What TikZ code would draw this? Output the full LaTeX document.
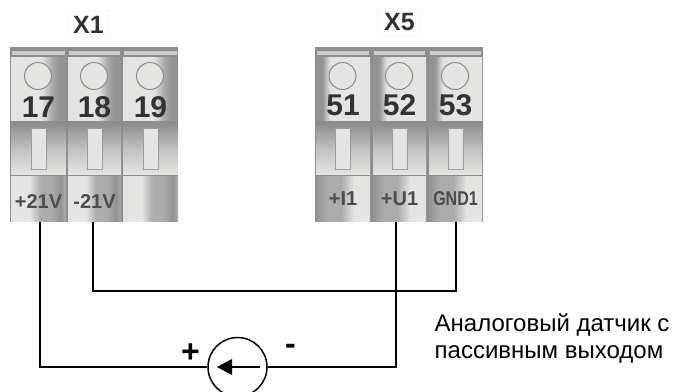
\documentclass[tikz,border=0pt]{standalone}
\usepackage{fontspec}
\setmainfont{Liberation Sans}
\definecolor{frame}{HTML}{8C8C8C}
\definecolor{lite}{HTML}{E4E4E2}
\definecolor{midg}{HTML}{ABABAB}
\definecolor{dark}{HTML}{939393}
\definecolor{ink}{HTML}{333333}
\pgfdeclarehorizontalshading{topR}{100bp}{color(0bp)=(lite); color(25bp)=(lite); color(53bp)=(lite); color(62bp)=(midg); color(68bp)=(dark); color(75bp)=(dark); color(100bp)=(dark)}
\pgfdeclarehorizontalshading{lowR}{100bp}{color(0bp)=(lite); color(25bp)=(lite); color(42bp)=(lite); color(52bp)=(midg); color(62bp)=(midg); color(70bp)=(dark); color(75bp)=(midg); color(100bp)=(midg)}
\pgfdeclarehorizontalshading{topL}{100bp}{color(0bp)=(dark); color(25bp)=(dark); color(31bp)=(dark); color(38bp)=(lite); color(75bp)=(lite); color(100bp)=(lite)}
\pgfdeclarehorizontalshading{lowL}{100bp}{color(0bp)=(dark); color(25bp)=(dark); color(35bp)=(midg); color(48bp)=(midg); color(60bp)=(lite); color(75bp)=(lite); color(100bp)=(lite)}
\tikzset{
  x=1pt,y=-1pt,
  wire/.style={draw=black,line width=1.5pt,line cap=butt,line join=miter},
  tag/.style={draw=black!12,fill=white,rounded corners=1pt,inner sep=0pt,minimum width=41pt,minimum height=27pt,font=\bfseries\fontsize{25}{25}\selectfont,text=ink},
  body/.style={fill=frame,draw=none},
  strip/.style={fill=lite!70!frame,draw=none},
  band/.style={shade,top color=frame,bottom color=lite,middle color=frame!40!lite},
  slot/.style={fill=lite,draw=frame!85,line width=1pt},
  hole/.style={circle,fill=lite,draw=frame,line width=1pt,minimum size=27pt,inner sep=0pt},
  num/.style={font=\bfseries\fontsize{30}{30}\selectfont,text=ink,inner sep=0pt,anchor=base},
  lab/.style={font=\bfseries\fontsize{20}{20}\selectfont,text=black!70,inner sep=0pt,anchor=base},
  labs/.style={lab,xscale=0.8},
  note/.style={font=\fontsize{24}{24}\selectfont,inner sep=0pt,anchor=base west},
  sign/.style={font=\bfseries\fontsize{32}{32}\selectfont,inner sep=0pt},
  source/.style={circle,draw=black,line width=1.5pt,fill=white,minimum size=59pt,inner sep=0pt},
}
% #1 name #2 left #3 right #4 label #5 upper shading #6 lower shading #7 label style #8 number baseline #9 label baseline
\newcommand{\termcol}[9]{%
  \path[shade,shading=#5] (#2,57) rectangle (#3,120);
  \path[strip] (#2+1,50.5) rectangle (#3-1,55);
  \node[hole] (h#1) at ({(#2+#3)/2-0.5},76) {};
  \node[num] (n#1) at ({(#2+#3)/2},#8) {#1};
  \path[band] (#2,123) rectangle (#3,174);
  \path[slot] ({(#2+#3)/2-7.5},128) rectangle ({(#2+#3)/2+7.5},169);
  \path[shade,shading=#6] (#2,176) rectangle (#3,221);
  \node[#7] (t#1) at ({(#2+#3)/2},#9) {#4};
}
\begin{document}
\begin{tikzpicture}
\useasboundingbox (0,0) rectangle (674,391);
\path[fill=white] (0,0) rectangle (674,391);
\node[tag] (x1) at (88.5,24.5) {X1};
\node[tag,minimum width=43pt] (x5) at (399.5,22.5) {X5};
\path[body] (10,47) rectangle (178,222);
\path[body] (315,47) rectangle (483,222);
\termcol{17}{11}{66}{+21V}{topR}{lowR}{lab}{117}{208}
\termcol{18}{68}{121}{-21V}{topR}{lowR}{lab}{117}{208}
\termcol{19}{123}{178}{}{topR}{lowR}{lab}{117}{208}
\termcol{51}{316}{370}{+I1}{topL}{lowL}{lab}{115}{205}
\termcol{52}{373}{426}{+U1}{topL}{lowL}{lab}{115}{205}
\termcol{53}{429}{482}{GND1}{topL}{lowL}{labs}{115}{205}
\node[source] (src) at (237.5,367) {};
\coordinate (a) at (40,222);
\coordinate (b) at (93,222);
\coordinate (c) at (396,222);
\coordinate (d) at (456,222);
\coordinate (bend) at (456,291);
\draw[wire] (a) |- (src.west);
\draw[wire] (b) |- (bend) -- (d);
\draw[wire] (c) |- (src.east);
\coordinate (tail) at (260,367);
\coordinate (tip) at (217,367);
\coordinate (hu) at (232,359);
\coordinate (hd) at (232,375);
\draw[wire] (tail) -- (232,367);
\path[fill=black] (tip) -- (hu) -- (hd) -- cycle;
\node[sign] (plus) at (190.5,353) {+};
\node[sign] (minus) at (290.5,349) {-};
\node[note] (n1) at (434.5,331) {Аналоговый датчик с};
\node[note] (n2) at (434.5,358) {пассивным выходом};
\end{tikzpicture}
\end{document}
